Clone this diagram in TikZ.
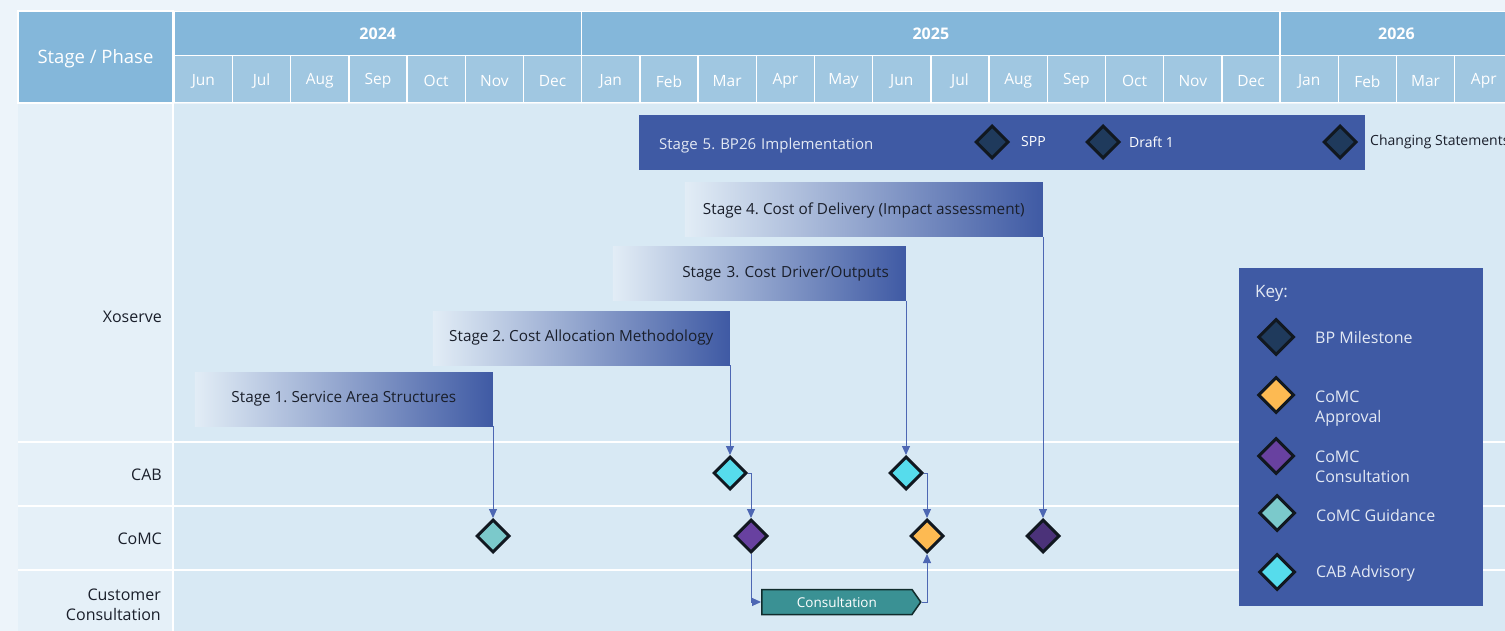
\documentclass[tikz,border=0pt]{standalone}
\usepackage{fontspec}
\setmainfont{Open Sans}
\usetikzlibrary{shapes.geometric,shapes.symbols,arrows.meta,positioning}
\frenchspacing

\definecolor{pagebg}{HTML}{EDF4FA}
\definecolor{yearcol}{HTML}{84B7DA}
\definecolor{monthcol}{HTML}{A0C7E1}
\definecolor{lblcol}{HTML}{E5F0F8}
\definecolor{bodycol}{HTML}{D8E9F4}
\definecolor{barblue}{HTML}{3F5AA4}
\definecolor{fadecol}{HTML}{E2EDF6}
\definecolor{inkcol}{HTML}{1A1F2B}
\definecolor{gemline}{HTML}{111820}
\definecolor{linkcol}{HTML}{4D67B3}
\definecolor{mscol}{HTML}{1F3A5C}
\definecolor{apprcol}{HTML}{FDBA52}
\definecolor{conscol}{HTML}{6841A0}
\definecolor{guidcol}{HTML}{7BC9CB}
\definecolor{advcol}{HTML}{56DCEC}
\definecolor{darkcons}{HTML}{4B3279}
\definecolor{csltcol}{HTML}{3A9194}
\definecolor{keytext}{HTML}{E3E9F4}

\newcommand{\lowered}[2]{\raisebox{-#1}[\height][\depth]{#2}}

\begin{document}
\begin{tikzpicture}[
    x=1pt, y=-1pt,
    hdr/.style={fill=yearcol, draw=white, line width=1.5pt, inner sep=0pt, text=white},
    yearcell/.style={hdr, minimum height=44, font=\fontsize{16}{18}\selectfont\bfseries},
    monthcell/.style={hdr, fill=monthcol, minimum width=58.2, minimum height=47, font=\fontsize{15.5}{18}\selectfont},
    rowlbl/.style={anchor=east, inner sep=0pt, text=inkcol, font=\fontsize{16}{20}\selectfont},
    solidbar/.style={fill=barblue, minimum height=55, inner sep=0pt, text=keytext, font=\fontsize{15}{17}\selectfont},
    gradbar/.style={left color=fadecol, right color=barblue, minimum height=54, inner sep=0pt, text=inkcol, font=\fontsize{15.3}{17}\selectfont},
    gem/.style={diamond, aspect=1, draw=gemline, line width=3pt, minimum width=33, minimum height=33, inner sep=0pt},
    keygem/.style={gem, minimum width=36, minimum height=36},
    mslbl/.style={text=white, inner sep=0pt, font=\fontsize{14}{16}\selectfont},
    keylbl/.style={anchor=west, align=left, inner sep=0pt, text=keytext, font=\fontsize{16}{20}\selectfont},
    link/.style={draw=linkcol, line width=1pt, -{Triangle[length=9,width=8]}},
]
\useasboundingbox (0,0) rectangle (1505,631);
\fill[pagebg] (0,0) rectangle (1505,631);

% table body
\fill[lblcol] (18,104) rectangle (173,631);
\fill[bodycol] (173,104) rectangle (1505,631);
\foreach \y in {442,506,570}
    \draw[white, line width=1.5pt] (18,\y) -- (1505,\y);
\draw[white, line width=1.5pt] (173,104) -- (173,631);

% header
\node[hdr, minimum width=155, minimum height=92, font=\fontsize{18.5}{20}\selectfont] (phase) at (95.5,57) {\lowered{2pt}{Stage / Phase}};
\node[yearcell, minimum width=407, anchor=north west] (y24) at (173.5,11) {2024};
\node[yearcell, minimum width=698.4, anchor=north west] (y25) at (580.9,11) {2025};
\node[yearcell, minimum width=232.8, anchor=north west] (y26) at (1279.3,11) {2026};
\foreach \m [count=\i from 0] in {Jun,Jul,Aug,Sep,Oct,Nov,Dec,Jan,Feb,Mar,Apr,May,Jun,Jul,Aug,Sep,Oct,Nov,Dec,Jan,Feb,Mar,Apr}
    \node[monthcell, anchor=north west] (m\i) at ({173.5+\i*58.2},55) {\lowered{2pt}{\m}};

% row labels
\node[rowlbl] (xo) at (162,317) {Xoserve};
\node[rowlbl] (cab) at (162,475) {CAB};
\node[rowlbl] (comc) at (162,539) {CoMC};
\node[rowlbl, align=right] (cust) at (161,605) {Customer\\Consultation};

% stages
\node[solidbar, minimum width=726, text width=686, align=left, inner xsep=20pt, anchor=west] (s5) at (639,142.5) {\lowered{3pt}{Stage 5. BP26 Implementation}};
\node[gradbar, minimum width=358, anchor=east] (s4) at (1043,210) {Stage 4. Cost of Delivery (Impact assessment)};
\node[gradbar, minimum width=293, text width=259, align=right, inner xsep=17pt, anchor=east] (s3) at (906,273.5) {Stage 3. Cost Driver/Outputs};
\node[gradbar, minimum width=297, anchor=east] (s2) at (730,338) {Stage 2. Cost Allocation Methodology};
\node[gradbar, minimum width=298, anchor=east] (s1) at (493,399) {Stage 1. Service Area Structures};

% BP milestones
\node[gem, fill=mscol, label={[mslbl, label distance=11pt]right:SPP}] (spp) at (992,142) {};
\node[gem, fill=mscol, label={[mslbl, label distance=8pt]right:Draft 1}] (dr1) at (1103,142) {};
\node[gem, fill=mscol, label={[mslbl, text=inkcol, label distance=12pt]right:Changing Statements}] (chg) at (1340,142) {};

% CAB / CoMC
\node[gem, fill=advcol] (cab1) at (730,473) {};
\node[gem, fill=advcol] (cab2) at (906,473) {};
\node[gem, fill=guidcol] (guid) at (493,536) {};
\node[gem, fill=conscol] (cons1) at (751,536) {};
\node[gem, fill=apprcol] (appr) at (927,536) {};
\node[gem, fill=darkcons] (cons2) at (1043,536) {};

% customer consultation
\node[signal, signal to=east, signal pointer angle=110, fill=csltcol, draw=black!70!csltcol, line width=1.5pt,
      minimum width=159, minimum height=25, inner sep=0pt, text=white, font=\fontsize{13.5}{16}\selectfont,
      anchor=west] (cslt) at (761,602) {Consultation};

% links
\draw[link] (s1.south east) -- (guid.north);
\draw[link] (s2.south east) -- (cab1.north);
\draw[link] (s3.south east) -- (cab2.north);
\draw[link] (s4.south east) -- (cons2.north);
\draw[link] (cab1.east) -| (cons1.north);
\draw[link] (cab2.east) -| (appr.north);
\draw[link] (cons1.south) |- (cslt.west);
\draw[link] (cslt.east) -| (appr.south);

% key
\node[fill=barblue, minimum width=244, minimum height=338, anchor=north west] (key) at (1239,268) {};
\node[keylbl, font=\fontsize{17}{20}\selectfont] (keyt) at (1255,293) {Key:};
\node[keygem, fill=mscol] (k1) at (1276,337) {};
\node[keygem, fill=apprcol] (k2) at (1276,395) {};
\node[keygem, fill=conscol] (k3) at (1276,456) {};
\node[keygem, fill=guidcol] (k4) at (1277,513) {};
\node[keygem, fill=advcol] (k5) at (1277,572) {};
\node[keylbl] (k1t) at (1315,337) {BP Milestone};
\node[keylbl] (k2t) at (1315,409) {CoMC\\Approval};
\node[keylbl] (k3t) at (1315,467) {CoMC\\Consultation};
\node[keylbl] (k4t) at (1316,515) {CoMC Guidance};
\node[keylbl] (k5t) at (1316,573) {CAB Advisory};

\end{tikzpicture}
\end{document}
